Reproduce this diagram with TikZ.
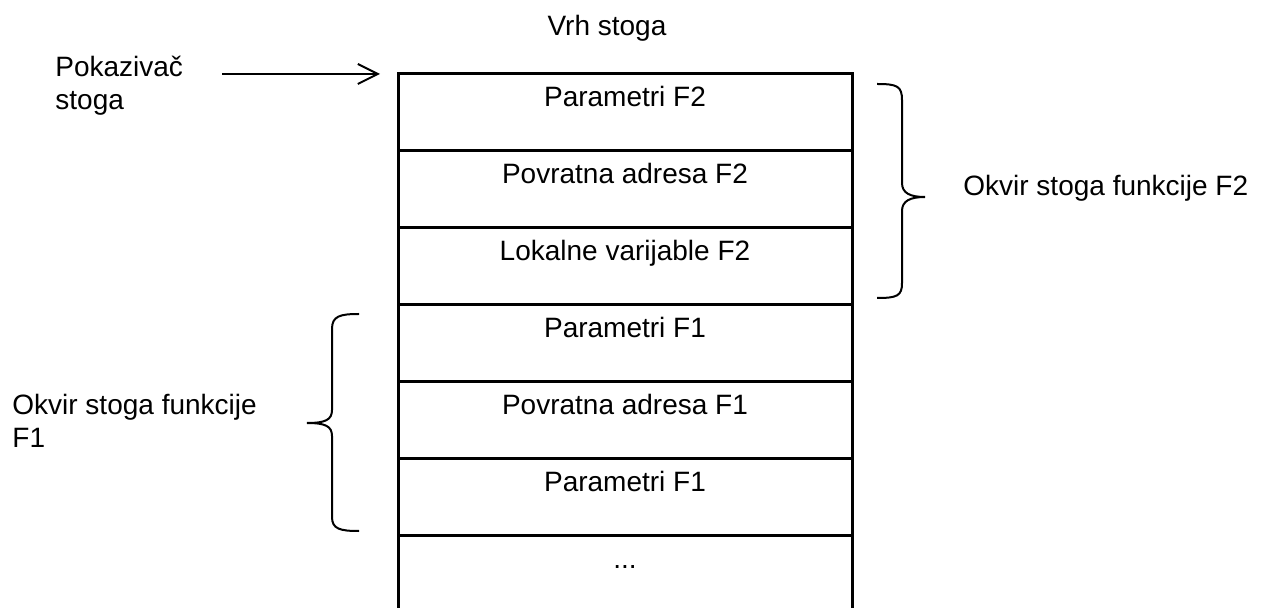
\documentclass[tikz,border=0pt]{standalone}
\usepackage{fontspec}
\setmainfont{Liberation Sans}
\usetikzlibrary{arrows.meta, positioning}

\begin{document}
\begin{tikzpicture}[
    x=0.5pt,
    y=-0.5pt,
    node distance=38.5pt,
    on grid,
    font=\fontsize{14pt}{16.5pt}\selectfont,
    cell/.style={draw, line width=1.5pt, minimum width=227pt, minimum height=38.5pt,
                 inner sep=0pt, text height=10pt, text depth=15.5pt},
    note/.style={align=left, anchor=base west, inner sep=0pt},
    curly/.style={line width=1pt},
    arr/.style={-{Straight Barb[length=10pt, width=10pt]}, line width=1pt},
]
    \useasboundingbox (0,0) rectangle (1273,608);

    \node[cell]              (p2)   at (625,112) {Parametri F2};
    \node[cell, below=of p2]  (ra2)  {Povratna adresa F2};
    \node[cell, below=of ra2] (lv2)  {Lokalne varijable F2};
    \node[cell, below=of lv2] (p1)   {Parametri F1};
    \node[cell, below=of p1]  (ra1)  {Povratna adresa F1};
    \node[cell, below=of ra1] (pp1)  {Parametri F1};
    \node[cell, below=of pp1] (more) {...};

    \node[anchor=base, inner sep=0pt] (vrh) at (607,36) {Vrh stoga};
    \node[note] (ptr) at (55,110)  {Pokazivač\\stoga};
    \node[note] (f2)  at (963,196) {Okvir stoga funkcije F2};
    \node[note] (f1)  at (12,448)  {Okvir stoga funkcije\\F1};

    % pointer to top of stack
    \coordinate (tail) at (222,74);
    \coordinate (tip)  at (380,74);
    \draw[arr] (tail) -- (tip);

    % frame of F2
    \draw[curly] (877,84) .. controls (897,84) and (902,86) .. (902,100)
        -- (902,183) .. controls (902,193) and (910,197) .. (925,197)
        .. controls (910,197) and (902,201) .. (902,211)
        -- (902,283) .. controls (902,296) and (897,298) .. (877,298);

    % frame of F1
    \draw[curly] (359,314) .. controls (340,314) and (332,316) .. (332,329)
        -- (332,410) .. controls (332,420) and (325,423) .. (307,423)
        .. controls (325,423) and (332,426) .. (332,436)
        -- (332,517) .. controls (332,529) and (340,531) .. (359,531);
\end{tikzpicture}
\end{document}
